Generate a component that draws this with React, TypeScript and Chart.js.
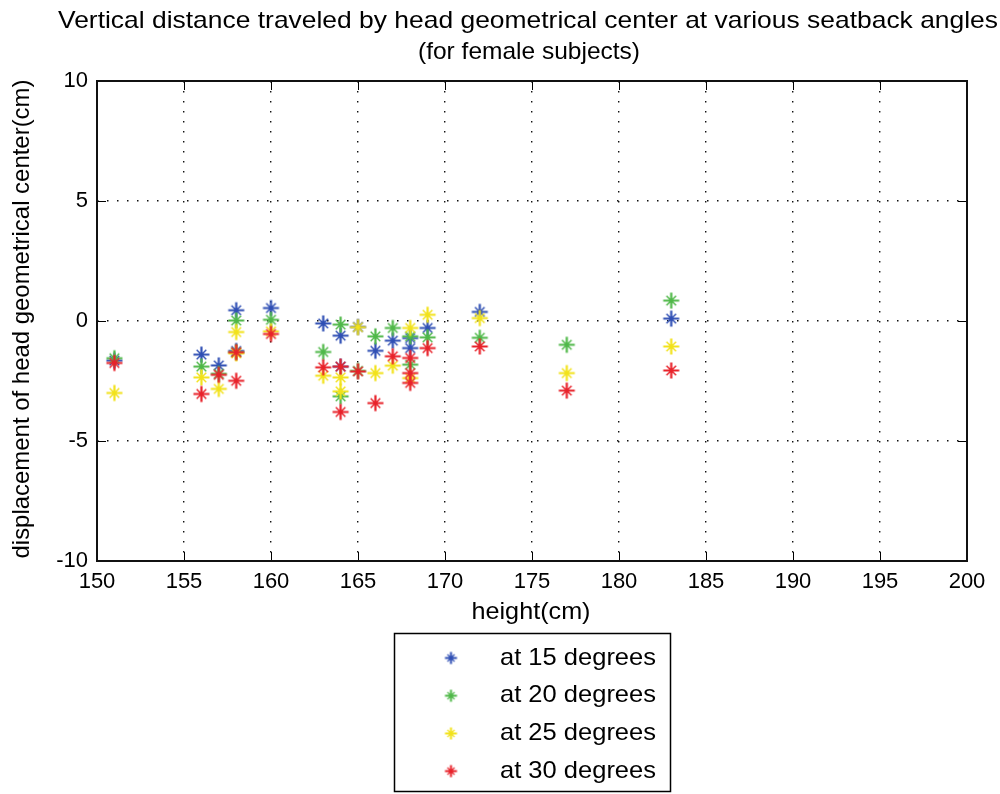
import { useEffect, useRef } from "react";
import { Chart, registerables } from "chart.js";

Chart.register(...registerables);

const FONT_FAMILY = '"Liberation Sans", Arial, Helvetica, sans-serif';

const chartTitle = [
  "Vertical distance traveled by head geometrical center at various seatback angles",
  "(for female subjects)",
];
const xLabel = "height(cm)";
const yLabel = "displacement of head geometrical center(cm)";

const xTicks = [150, 155, 160, 165, 170, 175, 180, 185, 190, 195, 200];
const yTicks = [-10, -5, 0, 5, 10];

const seriesNames = ["at 15 degrees", "at 20 degrees", "at 25 degrees", "at 30 degrees"];
const seriesColors = ["#2f4fb4", "#4fb848", "#f2e21a", "#e8222a"];

// seatback at 15 degrees
const height15 = [151, 156, 157, 158, 158, 160, 163, 164, 164, 165, 166, 167, 168, 168, 169, 172, 183];
const disp15 = [-1.65, -1.4, -1.85, 0.45, -1.25, 0.54, -0.1, -0.61, -1.9, -0.25, -1.24, -0.82, -0.71, -1.13, -0.29, 0.38, 0.1];

// seatback at 20 degrees
const height20 = [151, 156, 157, 158, 158, 160, 163, 164, 164, 165, 166, 167, 168, 168, 169, 172, 177, 183];
const disp20 = [-1.55, -1.9, -2.2, 0.02, -1.3, 0.05, -1.29, -0.15, -3.14, -2.08, -0.64, -0.29, -0.64, -1.82, -0.68, -0.7, -0.99, 0.85];

// seatback at 25 degrees
const height25 = [151, 156, 157, 158, 158, 160, 163, 164, 164, 165, 166, 167, 168, 168, 169, 172, 177, 183];
const disp25 = [-3.0, -2.35, -2.83, -0.46, -1.35, -0.43, -2.28, -2.35, -2.93, -0.26, -2.17, -1.86, -0.29, -2.38, 0.26, 0.12, -2.17, -1.06];

// seatback at 30 degrees
const height30 = [151, 156, 157, 158, 158, 160, 163, 164, 164, 165, 166, 167, 168, 168, 168, 169, 172, 177, 183];
const disp30 = [-1.75, -3.04, -2.24, -1.3, -2.49, -0.54, -1.93, -1.9, -3.79, -2.1, -3.42, -1.47, -1.54, -2.17, -2.58, -1.13, -1.06, -2.9, -2.06];

const seriesHeights = [height15, height20, height25, height30];
const seriesDisp = [disp15, disp20, disp25, disp30];

// Asterisk marker: a bold plus with short diagonal strokes.
function makeStar(color: string, r: number, w: number): HTMLCanvasElement {
  const size = Math.ceil(r * 2 + 3);
  const c = document.createElement("canvas");
  c.width = size;
  c.height = size;
  const g = c.getContext("2d")!;
  const m = size / 2;
  g.strokeStyle = color;
  g.lineCap = "butt";
  g.lineWidth = w;
  g.beginPath();
  g.moveTo(m - r, m);
  g.lineTo(m + r, m);
  g.moveTo(m, m - r);
  g.lineTo(m, m + r);
  g.stroke();
  const d = r * 0.6;
  g.lineWidth = w * 0.65;
  g.beginPath();
  g.moveTo(m - d, m - d);
  g.lineTo(m + d, m + d);
  g.moveTo(m + d, m - d);
  g.lineTo(m - d, m + d);
  g.stroke();
  g.fillStyle = color;
  g.fillRect(m - 2, m - 2, 4, 4);
  return c;
}

// Draws a text line stretched horizontally to a given width.
function fitText(
  ctx: CanvasRenderingContext2D,
  text: string,
  x: number,
  y: number,
  size: number,
  width: number,
  align: CanvasTextAlign,
  vertical = false
) {
  ctx.save();
  ctx.font = `${size}px ${FONT_FAMILY}`;
  ctx.textAlign = align;
  ctx.textBaseline = "middle";
  const w = ctx.measureText(text).width;
  ctx.translate(x, y);
  if (vertical) ctx.rotate(-Math.PI / 2);
  ctx.scale(width / w, 1);
  ctx.fillText(text, 0, 0);
  ctx.restore();
}

export default function App() {
  const canvasRef = useRef<HTMLCanvasElement | null>(null);

  useEffect(() => {
    const canvas = canvasRef.current;
    if (!canvas) return;

    const bigStars = seriesColors.map((c) => makeStar(c, 8, 2.2));
    const smallStars = seriesColors.map((c) => makeStar(c, 6, 2));

    const framePlugin = {
      id: "frame",
      beforeDatasetsDraw(chart: any) {
        const { ctx, chartArea: a, scales } = chart;
        ctx.save();
        ctx.strokeStyle = "#000";
        ctx.lineWidth = 1;
        ctx.beginPath();
        for (const v of xTicks) {
          const px = Math.round(scales.x.getPixelForValue(v)) + 0.5;
          ctx.moveTo(px, a.bottom);
          ctx.lineTo(px, a.bottom - 9);
          ctx.moveTo(px, a.top);
          ctx.lineTo(px, a.top + 9);
        }
        for (const v of yTicks) {
          const py = Math.round(scales.y.getPixelForValue(v)) + 0.5;
          ctx.moveTo(a.left, py);
          ctx.lineTo(a.left + 9, py);
          ctx.moveTo(a.right, py);
          ctx.lineTo(a.right - 9, py);
        }
        ctx.stroke();
        ctx.lineWidth = 2;
        ctx.strokeStyle = "#111";
        ctx.strokeRect(a.left, a.top, a.right - a.left, a.bottom - a.top);
        ctx.restore();
      },
      afterDraw(chart: any) {
        const { ctx, chartArea: a } = chart;
        ctx.save();
        ctx.fillStyle = "#000";
        const cx = (a.left + a.right) / 2;
        fitText(ctx, chartTitle[0], cx - 4, 21, 24, 940, "center");
        fitText(ctx, chartTitle[1], cx - 3, 52, 24, 222, "center");
        fitText(ctx, xLabel, cx - 1, 612, 24, 119, "center");
        fitText(ctx, yLabel, 22, (a.top + a.bottom) / 2 - 2, 24, 479, "center", true);

        // legend box
        ctx.strokeStyle = "#000";
        ctx.lineWidth = 1.5;
        ctx.strokeRect(394.5, 633.5, 276, 158);
        chart.data.datasets.forEach((ds: any, i: number) => {
          const y = 658 + i * 37.7;
          const img = smallStars[i];
          ctx.drawImage(img, 451 - img.width / 2, y - img.height / 2);
          fitText(ctx, ds.label, 500, y, 24, 156, "left");
        });
        ctx.restore();
      },
    };

    const chart = new Chart(canvas, {
      type: "scatter",
      data: {
        datasets: seriesNames.map((name, i) => ({
          label: name,
          data: seriesHeights[i].map((h, k) => ({ x: h, y: seriesDisp[i][k] })),
          pointStyle: bigStars[i],
          borderColor: seriesColors[i],
          backgroundColor: seriesColors[i],
          order: 3 - i,
        })),
      },
      options: {
        responsive: false,
        animation: false,
        events: [],
        layout: { padding: { left: 0, top: 81, right: 33, bottom: 167 } },
        plugins: {
          legend: { display: false },
          tooltip: { enabled: false },
          title: { display: false },
        },
        scales: {
          x: {
            type: "linear",
            min: 150,
            max: 200,
            afterFit: (s: any) => {
              s.height = 66;
            },
            ticks: {
              stepSize: 5,
              autoSkip: false,
              maxRotation: 0,
              padding: 8,
              color: "#000",
              font: { family: FONT_FAMILY, size: 22 },
              callback: (v: any) => String(v),
            },
            grid: { color: "#111", lineWidth: 1.4, drawTicks: false },
            border: { display: false, dash: [1.5, 8.5] },
          },
          y: {
            type: "linear",
            min: -10,
            max: 10,
            afterFit: (s: any) => {
              s.width = 97;
            },
            ticks: {
              stepSize: 5,
              padding: 9,
              color: "#000",
              font: { family: FONT_FAMILY, size: 22 },
              callback: (v: any) => String(v),
            },
            grid: { color: "#111", lineWidth: 1.4, drawTicks: false },
            border: { display: false, dash: [1.5, 8.5] },
          },
        },
      },
      plugins: [framePlugin],
    });

    return () => chart.destroy();
  }, []);

  return (
    <div style={{ position: "absolute", left: 0, top: 0, width: 1000, height: 794, background: "#fff" }}>
      <canvas ref={canvasRef} width={1000} height={794} style={{ display: "block" }} />
    </div>
  );
}
